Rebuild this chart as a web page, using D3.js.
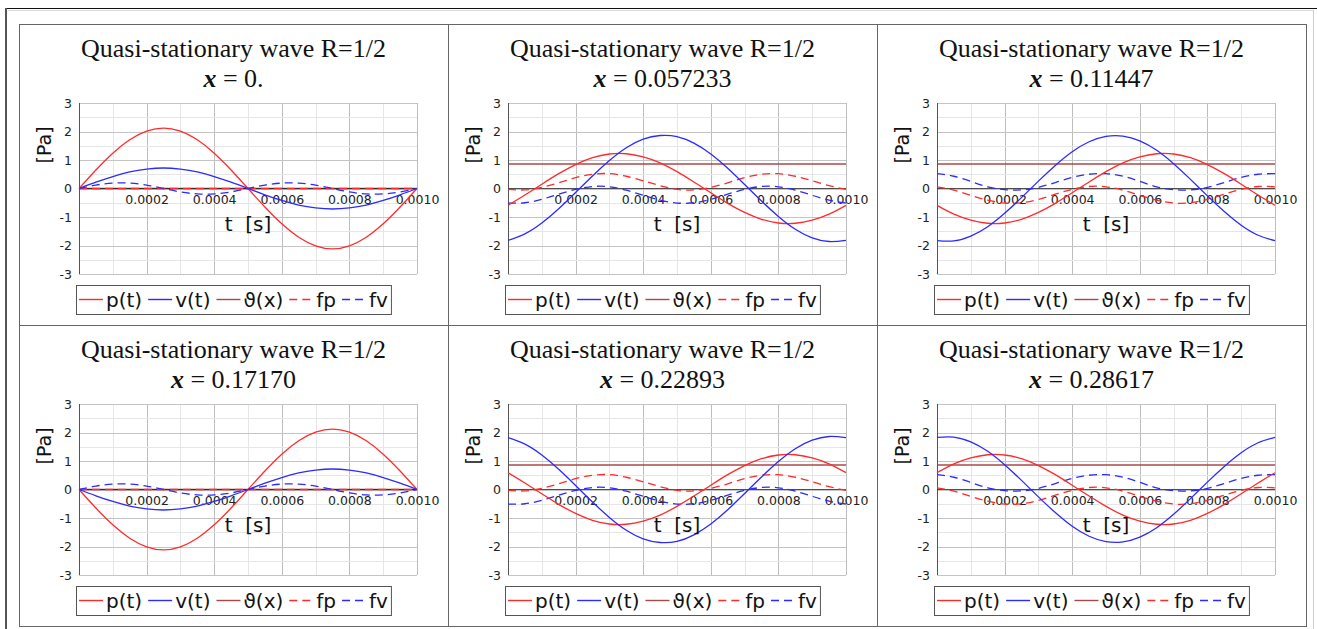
<!DOCTYPE html>
<html>
<head>
  <meta charset="utf-8">
  <title>Quasi-stationary wave R=1/2</title>
  <script src="https://cdn.jsdelivr.net/npm/d3@7"></script>
  <style>
    body { margin: 0; background: #fff; }
    svg { display: block; }
    .title { font-family: "Liberation Serif", "Times New Roman", serif; font-size: 26px; fill: #111; }
    .tick text { font-family: "DejaVu Sans", sans-serif; font-size: 12.5px; fill: #222; }
    .lbl { font-family: "DejaVu Sans", sans-serif; font-size: 20px; fill: #111; white-space: pre; }
  </style>
</head>
<body>
<svg id="chart"></svg>
<script>

var width = 1317
var height = 629

// sample times [s]
var tSamples = [0, 0.00005, 0.0001, 0.00015, 0.0002, 0.00025, 0.0003, 0.00035, 0.0004, 0.00045, 0.0005,
  0.00055, 0.0006, 0.00065, 0.0007, 0.00075, 0.0008, 0.00085, 0.0009, 0.00095, 0.001]
var tTicks = [0.0002, 0.0004, 0.0006, 0.0008, 0.0010]
var yTicks = [-3, -2, -1, 0, 1, 2, 3]
var xPositions = ["0.", "0.057233", "0.11447", "0.17170", "0.22893", "0.28617"]
var thetaLevel = [0, 0.86, 0.86, 0, 0.86, 0.86]

var pSeries = [
  [0, 0.65, 1.24, 1.71, 2.01, 2.12, 2.01, 1.71, 1.24, 0.65, 0, -0.65, -1.24, -1.71, -2.01, -2.12, -2.01, -1.71, -1.24, -0.65, 0],
  [-0.59, -0.23, 0.15, 0.52, 0.84, 1.08, 1.21, 1.22, 1.11, 0.90, 0.59, 0.23, -0.15, -0.52, -0.84, -1.08, -1.21, -1.22, -1.11, -0.90, -0.59],
  [-0.59, -0.90, -1.11, -1.22, -1.21, -1.08, -0.84, -0.52, -0.15, 0.23, 0.59, 0.90, 1.11, 1.22, 1.21, 1.08, 0.84, 0.52, 0.15, -0.23, -0.59],
  [0, -0.65, -1.24, -1.71, -2.01, -2.12, -2.01, -1.71, -1.24, -0.65, 0, 0.65, 1.24, 1.71, 2.01, 2.12, 2.01, 1.71, 1.24, 0.65, 0],
  [0.59, 0.23, -0.15, -0.52, -0.84, -1.08, -1.21, -1.22, -1.11, -0.90, -0.59, -0.23, 0.15, 0.52, 0.84, 1.08, 1.21, 1.22, 1.11, 0.90, 0.59],
  [0.59, 0.90, 1.11, 1.22, 1.21, 1.08, 0.84, 0.52, 0.15, -0.23, -0.59, -0.90, -1.11, -1.22, -1.21, -1.08, -0.84, -0.52, -0.15, 0.23, 0.59]
]

var vSeries = [
  [0, 0.22, 0.42, 0.58, 0.68, 0.72, 0.68, 0.58, 0.42, 0.22, 0, -0.22, -0.42, -0.58, -0.68, -0.72, -0.68, -0.58, -0.42, -0.22, 0],
  [-1.82, -1.59, -1.21, -0.71, -0.14, 0.44, 0.98, 1.43, 1.73, 1.86, 1.82, 1.59, 1.21, 0.71, 0.14, -0.44, -0.98, -1.43, -1.73, -1.86, -1.82],
  [-1.83, -1.84, -1.67, -1.34, -0.87, -0.32, 0.26, 0.81, 1.29, 1.64, 1.83, 1.84, 1.67, 1.34, 0.87, 0.32, -0.26, -0.81, -1.29, -1.64, -1.83],
  [0, -0.22, -0.42, -0.58, -0.68, -0.72, -0.68, -0.58, -0.42, -0.22, 0, 0.22, 0.42, 0.58, 0.68, 0.72, 0.68, 0.58, 0.42, 0.22, 0],
  [1.82, 1.59, 1.21, 0.71, 0.14, -0.44, -0.98, -1.43, -1.73, -1.86, -1.82, -1.59, -1.21, -0.71, -0.14, 0.44, 0.98, 1.43, 1.73, 1.86, 1.82],
  [1.83, 1.84, 1.67, 1.34, 0.87, 0.32, -0.26, -0.81, -1.29, -1.64, -1.83, -1.84, -1.67, -1.34, -0.87, -0.32, 0.26, 0.81, 1.29, 1.64, 1.83]
]

var fpSeries = [
  [0, 0, 0, 0, 0, 0, 0, 0, 0, 0, 0, 0, 0, 0, 0, 0, 0, 0, 0, 0, 0],
  [-0.03, -0.05, 0.04, 0.20, 0.38, 0.50, 0.52, 0.43, 0.27, 0.10, -0.03, -0.05, 0.04, 0.20, 0.38, 0.50, 0.52, 0.43, 0.27, 0.10, -0.03],
  [0.06, -0.06, -0.24, -0.41, -0.51, -0.50, -0.38, -0.20, -0.03, 0.07, 0.06, -0.06, -0.24, -0.41, -0.51, -0.50, -0.38, -0.20, -0.03, 0.07, 0.06],
  [0, 0, 0, 0, 0, 0, 0, 0, 0, 0, 0, 0, 0, 0, 0, 0, 0, 0, 0, 0, 0],
  [-0.03, -0.05, 0.04, 0.20, 0.38, 0.50, 0.52, 0.43, 0.27, 0.10, -0.03, -0.05, 0.04, 0.20, 0.38, 0.50, 0.52, 0.43, 0.27, 0.10, -0.03],
  [0.06, -0.06, -0.24, -0.41, -0.51, -0.50, -0.38, -0.20, -0.03, 0.07, 0.06, -0.06, -0.24, -0.41, -0.51, -0.50, -0.38, -0.20, -0.03, 0.07, 0.06]
]

var fvSeries = [
  [0, 0.12, 0.19, 0.19, 0.12, 0, -0.12, -0.19, -0.19, -0.12, 0, 0.12, 0.19, 0.19, 0.12, 0, -0.12, -0.19, -0.19, -0.12, 0],
  [-0.51, -0.50, -0.38, -0.20, -0.03, 0.07, 0.06, -0.06, -0.24, -0.41, -0.51, -0.50, -0.38, -0.20, -0.03, 0.07, 0.06, -0.06, -0.24, -0.41, -0.51],
  [0.52, 0.43, 0.25, 0.06, -0.04, -0.05, 0.04, 0.21, 0.39, 0.50, 0.52, 0.43, 0.25, 0.06, -0.04, -0.05, 0.04, 0.21, 0.39, 0.50, 0.52],
  [0, 0.12, 0.19, 0.19, 0.12, 0, -0.12, -0.19, -0.19, -0.12, 0, 0.12, 0.19, 0.19, 0.12, 0, -0.12, -0.19, -0.19, -0.12, 0],
  [-0.51, -0.50, -0.38, -0.20, -0.03, 0.07, 0.06, -0.06, -0.24, -0.41, -0.51, -0.50, -0.38, -0.20, -0.03, 0.07, 0.06, -0.06, -0.24, -0.41, -0.51],
  [0.52, 0.43, 0.25, 0.06, -0.04, -0.05, 0.04, 0.21, 0.39, 0.50, 0.52, 0.43, 0.25, 0.06, -0.04, -0.05, 0.04, 0.21, 0.39, 0.50, 0.52]
]

var legendItems = [
  { name: "p(t)", color: "#ff2b2b", dash: null },
  { name: "v(t)", color: "#2b2bff", dash: null },
  { name: "\u03d1(x)", color: "#a84848", dash: null },
  { name: "fp", color: "#ff2b2b", dash: "8,5" },
  { name: "fv", color: "#2b2bff", dash: "8,5" }
]

var cellW = 429, cellH = 301
var cellX0 = 19, cellY0 = 24

var svg = d3.select("#chart")
  .attr("width", width)
  .attr("height", height)

// outer page frame
svg.append("line").attr("x1", 5).attr("x2", width).attr("y1", 8.5).attr("y2", 8.5)
  .attr("stroke", "#111").attr("stroke-width", 1.2)
svg.append("line").attr("x1", 8).attr("x2", 1313).attr("y1", 10.5).attr("y2", 10.5)
  .attr("stroke", "#ddd")
svg.append("line").attr("x1", 6).attr("x2", 6).attr("y1", 8).attr("y2", height)
  .attr("stroke", "#555").attr("stroke-width", 2)
svg.append("line").attr("x1", 1313.5).attr("x2", 1313.5).attr("y1", 10).attr("y2", height)
  .attr("stroke", "#ccc")

var x = d3.scaleLinear().domain([0, 0.001]).range([60, 398])
var y = d3.scaleLinear().domain([-3, 3]).range([250, 79])

var line = d3.line()
  .x(function(d, k) { return x(tSamples[k]) })
  .y(function(d) { return y(d) })
  .curve(d3.curveNatural)

xPositions.forEach(function(xp, i) {
  var col = i % 3, row = Math.floor(i / 3)
  var g = svg.append("g")
    .attr("transform", "translate(" + (cellX0 + col * cellW) + "," + (cellY0 + row * cellH) + ")")

  g.append("rect")
    .attr("x", 0.5).attr("y", 0.5)
    .attr("width", cellW).attr("height", cellH)
    .attr("fill", "none").attr("stroke", "#666")

  // titles
  g.append("text").attr("class", "title")
    .attr("x", cellW / 2).attr("y", 33)
    .attr("text-anchor", "middle")
    .text("Quasi-stationary wave R=1/2")
  var t2 = g.append("text").attr("class", "title")
    .attr("x", cellW / 2).attr("y", 63)
    .attr("text-anchor", "middle")
  t2.append("tspan").style("font-style", "italic").style("font-weight", "bold").text("x")
  t2.append("tspan").text(" = " + xp)

  // grid
  var minorX = d3.range(0, 11).map(function(k) { return k * 0.0001 })
  var minorY = d3.range(-6, 7).map(function(k) { return k * 0.5 })
  g.append("g").selectAll("line")
    .data(minorX).enter().append("line")
    .attr("x1", function(d) { return Math.round(x(d)) + 0.5 })
    .attr("x2", function(d) { return Math.round(x(d)) + 0.5 })
    .attr("y1", y(3)).attr("y2", y(-3))
    .attr("stroke", function(d, k) { return k % 2 ? "#e6e6e6" : "#bdbdbd" })
  g.append("g").selectAll("line")
    .data(minorY).enter().append("line")
    .attr("x1", x(0)).attr("x2", x(0.001))
    .attr("y1", function(d) { return Math.round(y(d)) + 0.5 })
    .attr("y2", function(d) { return Math.round(y(d)) + 0.5 })
    .attr("stroke", function(d, k) { return k % 2 ? "#e6e6e6" : "#c4c4c4" })

  // theta level sits under the zero axis
  g.append("line")
    .attr("x1", x(0)).attr("x2", x(0.001))
    .attr("y1", y(thetaLevel[i])).attr("y2", y(thetaLevel[i]))
    .attr("stroke", "#a84848").attr("stroke-width", 1.3)

  // axes
  g.append("line")
    .attr("x1", Math.round(x(0)) + 0.5).attr("x2", Math.round(x(0)) + 0.5)
    .attr("y1", y(3)).attr("y2", y(-3))
    .attr("stroke", "#555")
  g.append("line")
    .attr("x1", x(0)).attr("x2", x(0.001))
    .attr("y1", y(0)).attr("y2", y(0))
    .attr("stroke", "#222").attr("stroke-opacity", 0.8)

  var yAxis = g.append("g")
    .attr("transform", "translate(" + x(0) + ",0)")
    .call(d3.axisLeft(y).tickValues(yTicks).tickSize(0).tickPadding(7)
      .tickFormat(function(d) { return String(d) }))
  yAxis.select(".domain").remove()

  var xAxis = g.append("g")
    .attr("transform", "translate(0," + y(0) + ")")
    .call(d3.axisBottom(x).tickValues(tTicks).tickSize(0).tickPadding(7)
      .tickFormat(d3.format(".4f")))
  xAxis.select(".domain").remove()

  // curves
  var series = [fpSeries[i], fvSeries[i], pSeries[i], vSeries[i]]
  var styles = [legendItems[3], legendItems[4], legendItems[0], legendItems[1]]
  series.forEach(function(s, k) {
    g.append("path")
      .datum(s)
      .attr("d", line)
      .attr("fill", "none")
      .attr("stroke", styles[k].color)
      .attr("stroke-width", 1.3)
      .attr("stroke-dasharray", styles[k].dash)
  })

  // axis labels
  g.append("text").attr("class", "lbl")
    .attr("x", (x(0) + x(0.001)) / 2).attr("y", y(0) + 42)
    .attr("text-anchor", "middle")
    .text("t  [s]")
  g.append("text").attr("class", "lbl")
    .attr("transform", "translate(32,121) rotate(-90)")
    .attr("text-anchor", "middle")
    .style("font-size", "19px")
    .text("[Pa]")

  // legend
  var lg = g.append("g").attr("transform", "translate(0,261)")
  var box = lg.append("rect")
    .attr("height", 29).attr("fill", "#fff")
    .attr("stroke", "#555")
  var cursor = 3
  legendItems.forEach(function(it) {
    lg.append("line")
      .attr("x1", cursor).attr("x2", cursor + 24)
      .attr("y1", 14.5).attr("y2", 14.5)
      .attr("stroke", it.color).attr("stroke-width", 1.4)
      .attr("stroke-dasharray", it.dash)
    var tx = lg.append("text").attr("class", "lbl")
      .attr("x", cursor + 27).attr("y", 22)
      .text(it.name)
    cursor += 27 + tx.node().getComputedTextLength() + 6
  })
  var boxW = cursor - 3
  box.attr("x", 0.5).attr("y", 0.5).attr("width", boxW)
  lg.attr("transform", "translate(" + Math.round(cellW / 2 - boxW / 2) + ",261)")
})

</script>
</body>
</html>
